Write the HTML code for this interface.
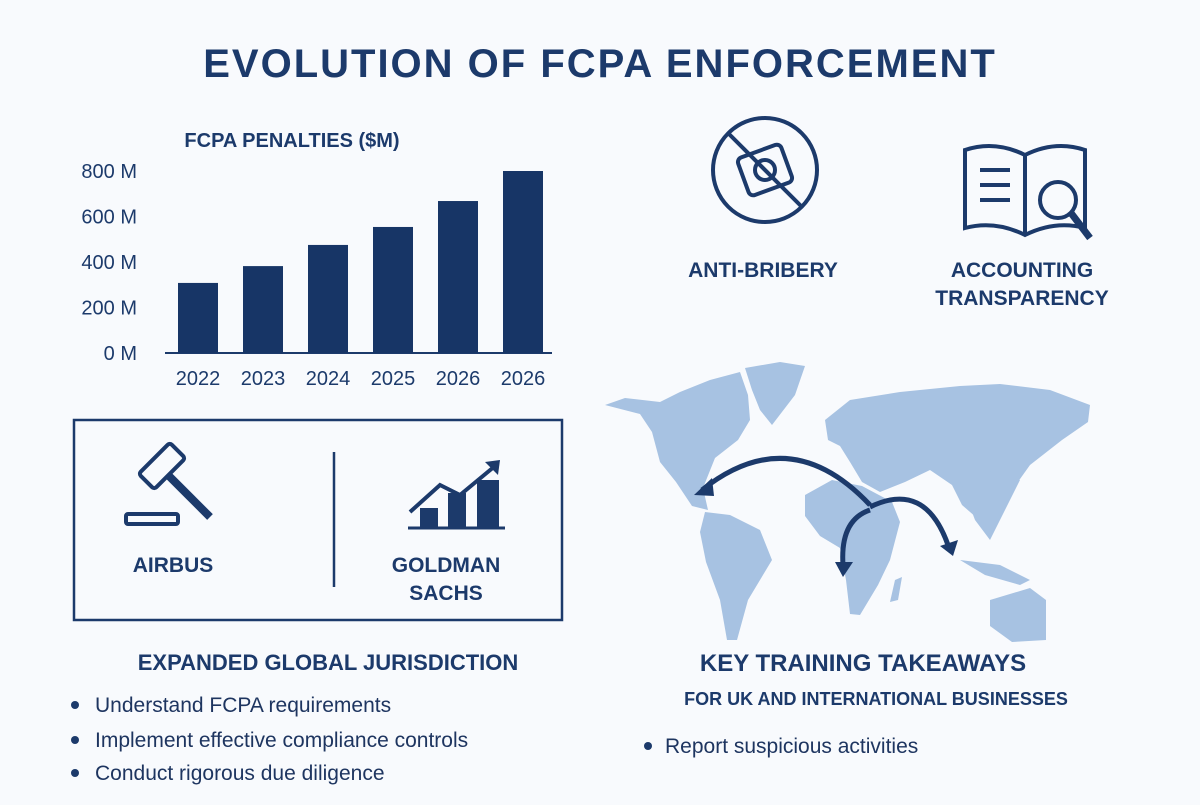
<!DOCTYPE html>
<html><head><meta charset="utf-8"><style>
body{margin:0;background:#f8fafd;}
svg text{font-family:"Liberation Sans",sans-serif;}
</style></head><body>
<svg width="1200" height="800" viewBox="0 0 1200 800" xmlns="http://www.w3.org/2000/svg">
<rect width="1200" height="800" fill="#f8fafd"/>
<text x="600" y="77" text-anchor="middle" font-size="40" font-weight="bold" fill="#1c3a6b" letter-spacing="2">EVOLUTION OF FCPA ENFORCEMENT</text>

<g id="chart">
<text x="292" y="147" text-anchor="middle" font-size="20" font-weight="bold" fill="#1c3a6b">FCPA PENALTIES ($M)</text>
<line x1="165" y1="353" x2="552" y2="353" stroke="#1c3a6b" stroke-width="2"/>
</g>

<g fill="#a7c2e2">
<polygon points="605,405 625,398 660,402 680,392 710,380 740,372 748,395 750,420 738,440 715,458 703,488 708,510 692,506 676,482 660,462 652,432 640,414"/>
<polygon points="745,368 780,362 805,366 795,395 772,425 760,410 752,390"/>
<polygon points="705,512 730,515 760,530 772,560 748,600 737,640 727,640 720,600 706,562 700,532"/>
<polygon points="825,420 850,400 900,392 960,386 1000,384 1050,390 1090,405 1088,422 1062,440 1030,465 1005,500 985,525 962,505 952,485 930,470 905,482 880,492 862,482 850,462 840,446 828,440"/>
<polygon points="930,470 960,480 975,520 990,540 1000,520 1010,500 1020,480 985,470 960,470"/>
<polygon points="805,495 832,480 862,486 892,502 900,522 890,560 878,585 860,615 850,614 846,580 840,548 820,536 805,516"/>
<polygon points="990,600 1030,588 1046,600 1046,640 1012,642 990,626"/>
<polygon points="895,580 902,577 898,600 890,602"/>
<polygon points="960,560 1000,565 1030,580 1020,585 985,575"/>
</g>
<g fill="none" stroke="#1c3a6b" stroke-width="5">
<path d="M870,505 Q790,420 702,490"/>
<path d="M870,510 Q840,520 843,565"/>
<path d="M870,507 Q925,480 948,545"/>
</g>
<g fill="#1c3a6b">
<polygon points="694,495 712,478 714,496"/>
<polygon points="835,562 853,562 843,577"/>
<polygon points="940,546 958,540 953,556"/>
</g>

<g fill="none" stroke="#1c3a6b" stroke-width="4">
<circle cx="765" cy="170" r="52"/>
<rect x="742" y="150" width="46" height="40" rx="5" transform="rotate(-20 765 170)"/>
<circle cx="765" cy="170" r="10"/>
<line x1="728" y1="133" x2="802" y2="207"/>
</g>
<text x="763" y="277" text-anchor="middle" font-size="21" font-weight="bold" fill="#1c3a6b">ANTI-BRIBERY</text>
<g fill="none" stroke="#1c3a6b" stroke-width="4">
<path d="M965,150 L965,228 Q995,220 1025,235 Q1055,220 1085,228 L1085,150 Q1055,140 1025,155 Q995,140 965,150 Z"/>
<line x1="1025" y1="155" x2="1025" y2="235"/>
<path d="M980,170h30M980,185h30M980,200h30"/>
<circle cx="1058" cy="200" r="18" fill="#f8fafd"/>
<line x1="1071" y1="213" x2="1090" y2="238" stroke-width="7"/>
</g>
<text x="1022" y="277" text-anchor="middle" font-size="21" font-weight="bold" fill="#1c3a6b">ACCOUNTING</text>
<text x="1022" y="305" text-anchor="middle" font-size="21" font-weight="bold" fill="#1c3a6b">TRANSPARENCY</text>

<rect x="74" y="420" width="488" height="200" fill="none" stroke="#1c3a6b" stroke-width="2.5"/>
<line x1="334" y1="452" x2="334" y2="587" stroke="#1c3a6b" stroke-width="2.5"/>
<g fill="none" stroke="#1c3a6b" stroke-width="4">
<rect x="140" y="455" width="44" height="22" rx="3" transform="rotate(-45 162 466)"/>
<line x1="168" y1="475" x2="210" y2="517" stroke-width="8"/>
<rect x="126" y="514" width="52" height="10" rx="2"/>
</g>
<text x="173" y="572" text-anchor="middle" font-size="21" font-weight="bold" fill="#1c3a6b">AIRBUS</text>
<g fill="#1c3a6b">
<rect x="420" y="508" width="18" height="20"/><rect x="448" y="493" width="18" height="35"/><rect x="477" y="480" width="22" height="48"/>
<line x1="408" y1="528" x2="505" y2="528" stroke="#1c3a6b" stroke-width="3"/>
<polyline points="410,512 440,485 460,495 495,466" fill="none" stroke="#1c3a6b" stroke-width="4"/>
<polygon points="485,462 500,460 498,475"/>
</g>
<text x="446" y="572" text-anchor="middle" font-size="21" font-weight="bold" fill="#1c3a6b">GOLDMAN</text>
<text x="446" y="600" text-anchor="middle" font-size="21" font-weight="bold" fill="#1c3a6b">SACHS</text>

<text x="328" y="670" text-anchor="middle" font-size="22" font-weight="bold" fill="#1c3a6b">EXPANDED GLOBAL JURISDICTION</text>
<g font-size="21" fill="#1e3560">
<circle cx="75" cy="705" r="4" fill="#1c3a6b"/><text x="95" y="712">Understand FCPA requirements</text>
<circle cx="75" cy="740" r="4" fill="#1c3a6b"/><text x="95" y="747">Implement effective compliance controls</text>
<circle cx="75" cy="773" r="4" fill="#1c3a6b"/><text x="95" y="780">Conduct rigorous due diligence</text>
</g>
<text x="863" y="671" text-anchor="middle" font-size="24" font-weight="bold" fill="#1c3a6b">KEY TRAINING TAKEAWAYS</text>
<text x="876" y="705" text-anchor="middle" font-size="18" font-weight="bold" fill="#1c3a6b">FOR UK AND INTERNATIONAL BUSINESSES</text>
<circle cx="648" cy="746" r="4" fill="#1c3a6b"/>
<text x="665" y="753" font-size="21" fill="#1e3560">Report suspicious activities</text>
</svg>
<script>
const categories=["2022","2023","2024","2025","2026","2026"];
const values=[308,382,475,554,668,800];
const ticks=[0,200,400,600,800];
const ns="http://www.w3.org/2000/svg";
const g=document.getElementById("chart");
const y0=353,yTop=171,yMax=800;
function yScale(v){return y0-(v/yMax)*(y0-yTop);}
function xScale(i){return 178+i*65;}
ticks.forEach(t=>{
 const tx=document.createElementNS(ns,"text");
 tx.setAttribute("x",137);tx.setAttribute("y",yScale(t)+7);
 tx.setAttribute("text-anchor","end");tx.setAttribute("font-size","20");
 tx.setAttribute("fill","#1c3a6b");tx.textContent=t+" M";
 
 
 g.appendChild(tx);
});
values.forEach((v,i)=>{
 const r=document.createElementNS(ns,"rect");
 r.setAttribute("x",xScale(i));r.setAttribute("width",40);
 r.setAttribute("y",yScale(v));r.setAttribute("height",y0-yScale(v));
 r.setAttribute("fill","#173566");
 
 
 g.insertBefore(r,g.lastElementChild);
 const tx=document.createElementNS(ns,"text");
 tx.setAttribute("x",xScale(i)+20);tx.setAttribute("y",385);
 tx.setAttribute("text-anchor","middle");tx.setAttribute("font-size","20");
 tx.setAttribute("fill","#1c3a6b");tx.textContent=categories[i];
 
 
 g.appendChild(tx);
});
</script>
</body></html>
